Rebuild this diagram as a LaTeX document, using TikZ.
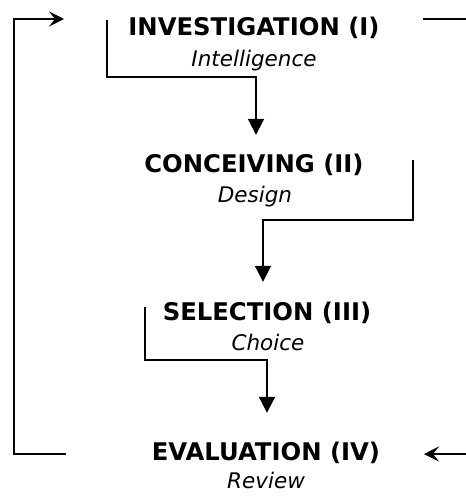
\documentclass[tikz,border=0pt]{standalone}
\usepackage{fontspec}
\setmainfont{DejaVu Sans}
\usetikzlibrary{arrows.meta}

\begin{document}
\begin{tikzpicture}[
    x=1pt, y=-1pt,
    stage/.style={anchor=base, inner sep=2pt, text height=18pt, text depth=5pt, font=\fontsize{24.3}{28}\selectfont\bfseries},
    sub/.style={anchor=base, inner sep=2pt, font=\fontsize{21.5}{25}\selectfont\itshape},
    flow/.style={-{Triangle[length=16pt, width=16pt]}, line width=2pt},
    plain/.style={line width=2pt},
    back/.style={-{Stealth[length=15pt, width=15pt, inset=6pt]}, line width=2pt}
]
\useasboundingbox (0,0) rectangle (466,496);
% Stages
\node[stage] (inv) at (254,35) {INVESTIGATION (I)};
\node[sub] (invsub) at (254,66) {Intelligence};
\node[stage] (con) at (254,172) {CONCEIVING (II)};
\node[sub] (consub) at (255,202) {Design};
\node[stage] (sel) at (267,320) {SELECTION (III)};
\node[sub] (selsub) at (268,350) {Choice};
\node[stage] (eva) at (266,460) {EVALUATION (IV)};
\node[sub] (evasub) at (266,488) {Review};
% Leg start points
\coordinate (invleg) at (107,20);
\coordinate (conleg) at (413,160);
\coordinate (selleg) at (145,307);
% Arrows between stages
\draw[flow] (invleg) -- ++(0,57) -| ([xshift=2pt, yshift=17pt]con.north);
\draw[flow] (conleg) -- ++(0,60) -| ([xshift=-4pt, yshift=18pt]sel.north);
\draw[flow] (selleg) -- ++(0,53) -| ([xshift=1pt, yshift=27pt]eva.north);
% Feedback loop
\coordinate (loopout) at (66,454);
\coordinate (loopin) at (64,19);
\draw[back] (loopout) -- ++(-52,0) |- (loopin);
% Side lines
\coordinate (sidetop) at (423,19);
\coordinate (edgebot) at (466,454);
\coordinate (sidebot) at (424,454);
\draw[plain] (sidetop) -- ++(43,0);
\draw[back] (edgebot) -- (sidebot);
\end{tikzpicture}
\end{document}
